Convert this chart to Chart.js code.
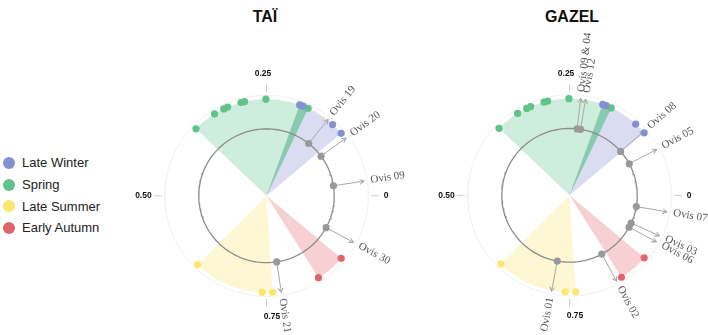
<!DOCTYPE html>
<html>
<head>
<meta charset="utf-8">
<script src="https://cdn.jsdelivr.net/npm/chart.js@4"></script>
<style>
  body { margin: 0; width: 708px; height: 335px; background: #fff; position: relative; overflow: hidden; font-family: "Liberation Sans", Arial, sans-serif; }
  canvas { position: absolute; left: 0; top: 0; }
  .title { position: absolute; top: 8px; font-weight: bold; font-size: 16px; color: #111; transform: translateX(-50%); }
  #legend { position: absolute; left: 3px; top: 152px; font-size: 13px; color: #222; }
  .item { height: 21.7px; display: flex; align-items: center; }
  .dot { width: 12px; height: 12px; border-radius: 50%; margin-right: 7px; }
</style>
</head>
<body>
<div class="title" style="left:265px">TAÏ</div>
<div class="title" style="left:572px">GAZEL</div>
<div id="legend"></div>
<canvas id="tai" width="708" height="335"></canvas>
<canvas id="gazel" width="708" height="335"></canvas>
<script>
const W = 708, H = 335;

// seasons (fraction of the year, 0 = right, counter-clockwise)
const seasons = ['Late Winter', 'Spring', 'Late Summer', 'Early Autumn'];
const seasonColors = ['#8590d2', '#5fc38a', '#fde66e', '#e0646c'];
const lateWinter = [0.195, 0.189, 0.132, 0.112];
const spring = [0.378, 0.339, 0.322, 0.315, 0.292, 0.286, 0.251, 0.180];
const lateSummer = [0.626, 0.743, 0.760];
const earlyAutumn = [0.888, 0.839];

// individuals
const taiSheep = ['Ovis 19', 'Ovis 20', 'Ovis 09', 'Ovis 30', 'Ovis 21'];
const taiTiming = [0.143, 0.101, 0.024, 0.921, 0.774];
const gazelSheep = ['Ovis 09 & 04', 'Ovis 12', 'Ovis 08', 'Ovis 05', 'Ovis 07', 'Ovis 03', 'Ovis 06', 'Ovis 02', 'Ovis 01'];
const gazelTiming = [0.232, 0.224, 0.114, 0.078, 0.973, 0.932, 0.921, 0.829, 0.721];

const tickValues = [0, 0.25, 0.5, 0.75];
const tickLabels = ['0', '0.25', '0.50', '0.75'];

const seasonDots = [lateWinter, spring, lateSummer, earlyAutumn];

// legend
const legend = document.getElementById('legend');
seasons.forEach((s, i) => {
    const d = document.createElement('div');
    d.className = 'item';
    d.innerHTML = `<span class="dot" style="background:${seasonColors[i]}"></span>${s}`;
    legend.appendChild(d);
});

function toXY(f, r) {
    const a = f * 2 * Math.PI;
    return { x: r * Math.cos(a), y: r * Math.sin(a) };
}

function arc(f0, f1, r, n) {
    const pts = [];
    for (let i = 0; i <= n; i++) pts.push(toXY(f0 + (f1 - f0) * i / n, r));
    return pts;
}

function alpha(hex, a) {
    const n = parseInt(hex.slice(1), 16);
    return `rgba(${n >> 16}, ${(n >> 8) & 255}, ${n & 255}, ${a})`;
}

const R_IN = 68.5, R_DOT = 99, R_TIP = 100, R_RING = 103;

const textPlugin = {
    id: 'polarText',
    afterDatasetsDraw(chart, args, opts) {
        const { ctx, scales: { x, y } } = chart;
        ctx.save();
        // tick labels
        ctx.font = 'bold 8.5px "Liberation Sans", Arial';
        ctx.fillStyle = '#111';
        ctx.textAlign = 'center';
        ctx.textBaseline = 'middle';
        const tickPos = [[121, 0], [-3.5, 125], [-124.5, 0], [5.5, -123.5]];
        tickLabels.forEach((t, i) => {
            ctx.fillText(t, x.getPixelForValue(tickPos[i][0]), y.getPixelForValue(tickPos[i][1]));
        });
        // individual labels
        ctx.font = '11px "Liberation Serif", serif';
        ctx.fillStyle = '#555';
        opts.names.forEach((name, i) => {
            const f = opts.timing[i];
            const p = toXY(f, 106.5);
            const deg = f * 360;
            ctx.save();
            ctx.translate(x.getPixelForValue(p.x), y.getPixelForValue(p.y));
            if (deg > 90 && deg < 270) {
                ctx.rotate(-f * 2 * Math.PI + Math.PI);
                ctx.textAlign = 'right';
            } else {
                ctx.rotate(-f * 2 * Math.PI);
                ctx.textAlign = 'left';
            }
            ctx.fillText(name, 0, 0);
            ctx.restore();
        });
        ctx.restore();
    }
};

function makePanel(id, cx, cy, names, timing) {
    const datasets = [];
    // season wedges
    const ranges = seasonDots.map(d => [Math.min(...d), Math.max(...d)]);
    ranges.forEach((r, i) => {
        datasets.push({
            type: 'line',
            data: [{ x: 0, y: 0 }, ...arc(r[0], r[1], R_DOT, 40), { x: 0, y: 0 }],
            borderWidth: 0,
            backgroundColor: alpha(seasonColors[i], 0.3),
            fill: 'shape',
            pointRadius: 0,
            order: 20
        });
    });
    // where two seasons overlap the later one shows stronger
    for (let i = 1; i < ranges.length; i++) {
        for (let j = 0; j < i; j++) {
            const lo = Math.max(ranges[i][0], ranges[j][0]);
            const hi = Math.min(ranges[i][1], ranges[j][1]);
            if (hi > lo) {
                datasets.push({
                    type: 'line',
                    data: [{ x: 0, y: 0 }, ...arc(lo, hi, R_DOT, 10), { x: 0, y: 0 }],
                    borderWidth: 0,
                    backgroundColor: alpha(seasonColors[i], 0.55),
                    fill: 'shape',
                    pointRadius: 0,
                    order: 19
                });
            }
        }
    }
    // outer ring and inner circle
    datasets.push({
        type: 'line', data: arc(0, 1, R_RING, 160), borderColor: '#f0f0f0', borderWidth: 1,
        pointRadius: 0, fill: false, order: 18
    });
    datasets.push({
        type: 'line', data: arc(0, 1, R_IN, 160), borderColor: '#8c8c8c', borderWidth: 1.3,
        pointRadius: 0, fill: false, order: 12
    });
    // tick marks
    tickValues.forEach(v => {
        datasets.push({
            type: 'line', data: [toXY(v, 106), toXY(v, 114)], borderColor: '#cfcfcf', borderWidth: 1,
            pointRadius: 0, fill: false, order: 15
        });
    });
    // arrows
    timing.forEach(f => {
        const a = f * 2 * Math.PI;
        const tip = toXY(f, R_TIP);
        const w1 = { x: tip.x - 5 * Math.cos(a + 0.5), y: tip.y - 5 * Math.sin(a + 0.5) };
        const w2 = { x: tip.x - 5 * Math.cos(a - 0.5), y: tip.y - 5 * Math.sin(a - 0.5) };
        datasets.push({
            type: 'line', data: [toXY(f, R_IN), tip, w1, tip, w2], borderColor: '#a8a8a8', borderWidth: 1,
            pointRadius: 0, fill: false, order: 10
        });
    });
    // individual points on the inner circle
    datasets.push({
        data: timing.map(f => toXY(f, R_IN)),
        backgroundColor: '#999999', borderWidth: 0, pointRadius: 3.6, order: 5
    });
    // season dots
    seasonDots.forEach((dots, i) => {
        datasets.push({
            data: dots.map(f => toXY(f, R_DOT)),
            backgroundColor: seasonColors[i], borderWidth: 0, pointRadius: 3.6, order: 2
        });
    });

    new Chart(document.getElementById(id), {
        type: 'scatter',
        data: { datasets: datasets },
        options: {
            responsive: false,
            animation: false,
            events: [],
            layout: { padding: 0 },
            elements: { line: { tension: 0 } },
            plugins: {
                legend: { display: false },
                tooltip: { enabled: false },
                polarText: { names: names, timing: timing }
            },
            scales: {
                x: { type: 'linear', min: -cx, max: W - cx, display: false },
                y: { type: 'linear', min: -(H - cy), max: cy, display: false }
            }
        },
        plugins: [textPlugin]
    });
}

makePanel('tai', 265.5, 196.5, taiSheep, taiTiming);
makePanel('gazel', 572, 196, gazelSheep, gazelTiming);
</script>
</body>
</html>
